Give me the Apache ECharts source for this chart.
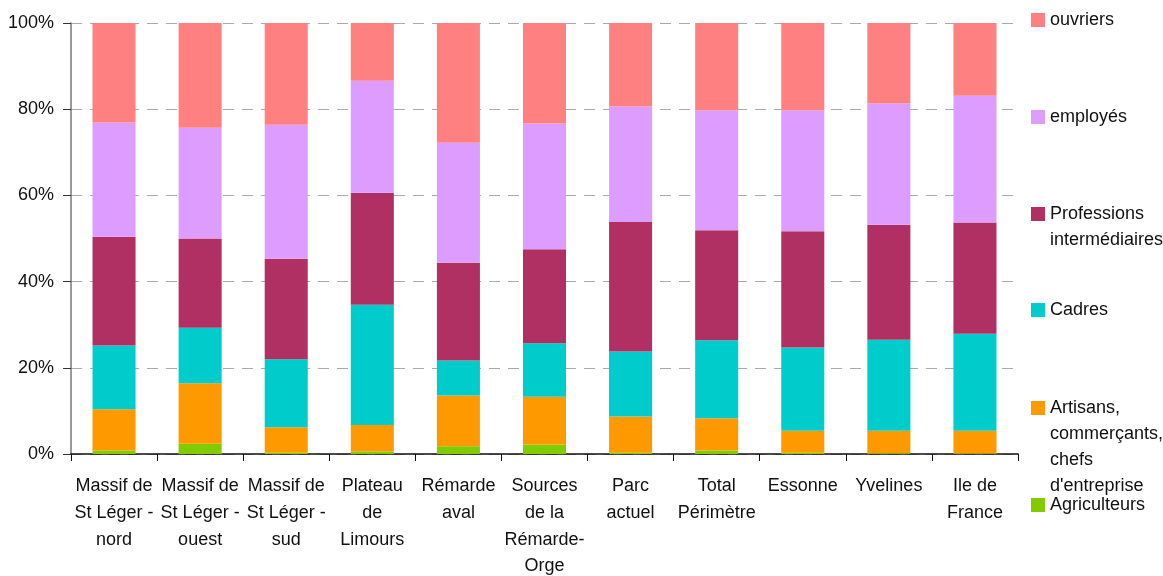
<!DOCTYPE html>
<html><head><meta charset="utf-8">
<script src="https://cdn.jsdelivr.net/npm/echarts@6/dist/echarts.min.js"></script>
<style>html,body{margin:0;padding:0;background:#fff}#c{width:1163px;height:576px}</style>
</head><body><div id="c"></div>
<script>
var categories = ["Massif de\nSt Léger -\nnord","Massif de\nSt Léger -\nouest","Massif de\nSt Léger -\nsud","Plateau\nde\nLimours","Rémarde\naval","Sources\nde la\nRémarde-\nOrge","Parc\nactuel","Total\nPérimètre","Essonne","Yvelines","Ile de\nFrance"];
var agriculteurs = [0.8, 2.4, 0.3, 0.6, 1.8, 2.2, 0.3, 0.8, 0.3, 0.2, 0.1];
var artisans =     [9.6, 14.0, 5.9, 6.1, 11.8, 11.1, 8.4, 7.5, 5.1, 5.2, 5.3];
var cadres =       [14.8, 12.9, 15.8, 27.9, 8.1, 12.4, 15.1, 18.1, 19.3, 21.1, 22.5];
var professions =  [25.2, 20.7, 23.3, 26.0, 22.7, 21.8, 30.0, 25.5, 27.0, 26.7, 25.8];
var employes =     [26.5, 25.7, 31.1, 26.0, 27.8, 29.2, 26.8, 27.8, 28.0, 28.1, 29.4];
var ouvriers =     [23.1, 24.3, 23.6, 13.4, 27.8, 23.3, 19.4, 20.3, 20.3, 18.7, 16.9];
var yTicks = [0, 20, 40, 60, 80, 100];

var FONT = "'Liberation Sans Narrow','Arial Narrow','Liberation Sans',Arial,sans-serif";
var FS = 18, LH = 26, XLH = 26.7;
var seriesDefs = [
  {name:'Agriculteurs', data:agriculteurs, color:'#80CC00', label:'Agriculteurs', lines:1, cy:505},
  {name:'Artisans, commerçants, chefs d\'entreprise', data:artisans, color:'#FF9900', label:'Artisans,\ncommerçants,\nchefs\nd\'entreprise', lines:4, cy:408},
  {name:'Cadres', data:cadres, color:'#00CCCC', label:'Cadres', lines:1, cy:310},
  {name:'Professions intermédiaires', data:professions, color:'#B13063', label:'Professions\nintermédiaires', lines:2, cy:214},
  {name:'employés', data:employes, color:'#DD9CFF', label:'employés', lines:1, cy:117},
  {name:'ouvriers', data:ouvriers, color:'#FF8080', label:'ouvriers', lines:1, cy:20}
];

var chart = echarts.init(document.getElementById('c'), null, {renderer:'canvas'});
var legends = seriesDefs.map(function(s){
  var n = s.lines;
  var pre = '';
  for (var i = 1; i < n; i++) pre += ' \n';
  return {
    data:[s.name], orient:'vertical', left:1031, top: s.cy - (2*n-1)*LH/2,
    padding:0, itemWidth:14, itemHeight:14, icon:'rect', itemGap:0,
    formatter:function(){return pre + s.label;},
    textStyle:{fontFamily:FONT, fontSize:FS, color:'#111', lineHeight:LH},
    selectedMode:false
  };
});
var option = {
  animation:false,
  backgroundColor:'#fff',
  grid:{left:71, right:145, top:23, bottom:122, containLabel:false, outerBoundsMode:'none'},
  legend: legends,
  xAxis:{
    type:'category', data:categories,
    axisLine:{lineStyle:{color:'#111', width:1.5}},
    axisTick:{show:true, length:7, lineStyle:{color:'#111'}},
    axisLabel:{interval:0, margin:19, fontFamily:FONT, fontSize:FS, color:'#111', lineHeight:XLH, align:'center'}
  },
  yAxis:{
    type:'value', min:0, max:100, interval:20,
    axisLine:{show:true, lineStyle:{color:'#777', width:1.5}},
    axisTick:{show:true, length:8, lineStyle:{color:'#333'}},
    axisLabel:{formatter:function(v){return v+'%';}, margin:17, fontFamily:FONT, fontSize:FS, color:'#111',
      customValues: yTicks},
    splitLine:{show:true, lineStyle:{color:'#aaa', type:[11,8], width:1.2}}
  },
  series: seriesDefs.map(function(s){
    return {name:s.name, type:'bar', stack:'total', data:s.data, barWidth:'50%',
      itemStyle:{color:s.color}, emphasis:{disabled:true}};
  })
};
chart.setOption(option);
</script></body></html>
